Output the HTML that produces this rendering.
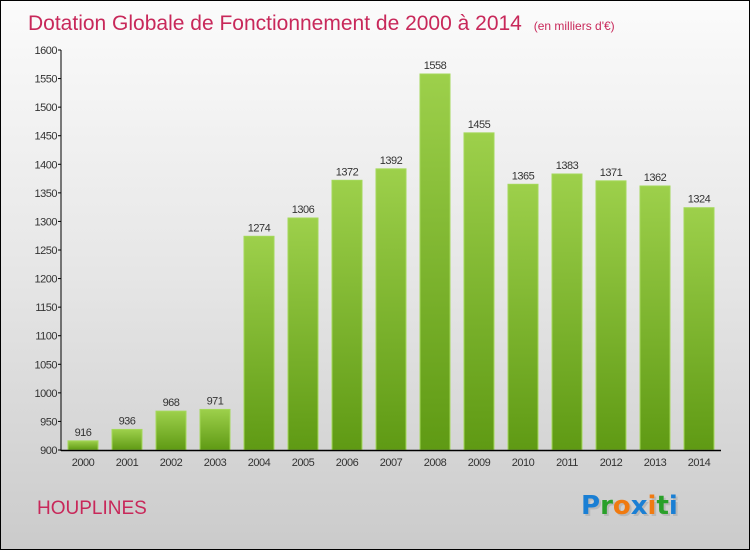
<!DOCTYPE html>
<html><head><meta charset="utf-8"><style>
html,body{margin:0;padding:0;}
body{width:750px;height:550px;overflow:hidden;font-family:"Liberation Sans",sans-serif;}
#wrap{position:relative;width:748px;height:548px;border:1px solid #000;background:linear-gradient(#fbfbfb,#e6e6e6 50%,#cbcbcb);}
</style></head><body>
<div id="wrap">
<svg id="chart" width="748" height="548" style="position:absolute;left:0;top:0">
<defs>
<linearGradient id="bg" x1="0" y1="0" x2="0" y2="1"><stop offset="0" stop-color="#9dd04b"/><stop offset="1" stop-color="#5f9a14"/></linearGradient>
</defs>
<text x="27" y="29" font-size="21" fill="#c8285a">Dotation Globale de Fonctionnement de 2000 à 2014 <tspan font-size="12" dx="6">(en milliers d'€)</tspan></text>
<text x="36" y="513" font-size="19" fill="#c8285a">HOUPLINES</text>
<g font-size="26" font-weight="bold" font-family="'DejaVu Sans',sans-serif">
<text x="582" y="515" fill="#aaa" opacity="0.6">Pro<tspan>x</tspan>iti</text>
<text x="580" y="513"><tspan fill="#1a7fd4">P</tspan><tspan fill="#2aa02a">r</tspan><tspan fill="#f07a10">o</tspan><tspan fill="#1a7fd4">x</tspan><tspan fill="#f07a10">i</tspan><tspan fill="#2aa02a">t</tspan><tspan fill="#1a7fd4">i</tspan></text>
</g>
<g id="plot"></g>
</svg>
</div>
<script>
const years=["2000","2001","2002","2003","2004","2005","2006","2007","2008","2009","2010","2011","2012","2013","2014"];
const values=[916,936,968,971,1274,1306,1372,1392,1558,1455,1365,1383,1371,1362,1324];
const ticks=[900,950,1000,1050,1100,1150,1200,1250,1300,1350,1400,1450,1500,1550,1600];
const NS="http://www.w3.org/2000/svg";
const g=document.getElementById('plot');
const x0=60,x1=720,yb=449,yt=49,vmin=900,vmax=1600;
const y=v=>yb-(v-vmin)/(vmax-vmin)*(yb-yt);
const step=(x1-x0)/years.length;
const xc=i=>x0+step*(i+0.5);
function mk(t,a){const e=document.createElementNS(NS,t);for(const k in a)e.setAttribute(k,a[k]);g.appendChild(e);return e;}
ticks.forEach(t=>{
 const l=mk('line',{x1:x0-3,x2:x0,y1:y(t),y2:y(t),stroke:'#000'});
 
 
 const tx=mk('text',{x:x0-4,y:y(t)+4,'text-anchor':'end','font-size':11,fill:'#333','letter-spacing':'-0.5'});
 tx.textContent=t;
 
 
});
years.forEach((yr,i)=>{
 const v=values[i],w=30;
 const r=mk('rect',{x:xc(i)-w/2,y:y(v),width:w,height:yb-y(v),fill:'url(#bg)',stroke:'#a4d85a','stroke-width':1});
 
 
 const vt=mk('text',{x:xc(i),y:y(v)-5,'text-anchor':'middle','font-size':11,fill:'#333','letter-spacing':'-0.5'});
 vt.textContent=v;
 
 
 const xt=mk('text',{x:xc(i),y:yb+16,'text-anchor':'middle','font-size':11,fill:'#333','letter-spacing':'-0.5'});
 xt.textContent=yr;
 
 
});
const ya=mk('line',{x1:x0,x2:x0,y1:yt,y2:yb+1,stroke:'#000'});


const xa=mk('line',{x1:x0,x2:x1,y1:yb+0.5,y2:yb+0.5,stroke:'#000','stroke-width':1.5});


</script>
</body></html>
